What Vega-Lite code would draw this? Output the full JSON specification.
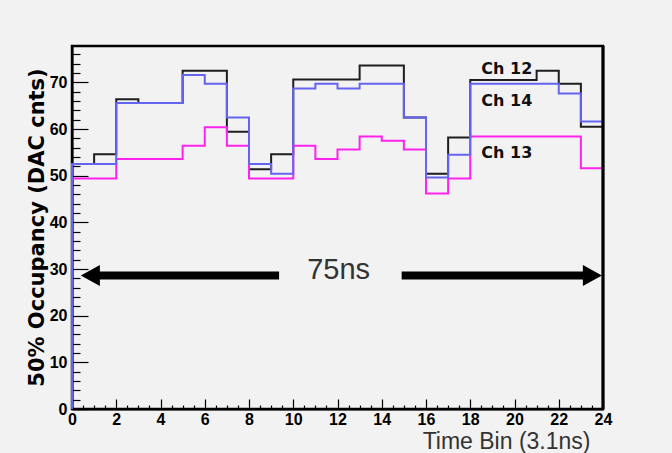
{
  "$schema": "https://vega.github.io/schema/vega-lite/v6.json",
  "width": 531,
  "height": 363,
  "autosize": {"type": "none"},
  "padding": {"left": 72, "top": 46, "right": 69, "bottom": 44},
  "background": "#f2f2f2",
  "config": {
    "view": {"fill": "#f2f2f2", "stroke": "#000000", "strokeWidth": 2.5},
    "axis": {
      "grid": false,
      "domainColor": "#000000",
      "domainWidth": 2,
      "tickColor": "#000000",
      "tickWidth": 1.2,
      "labelOverlap": false,
      "labelFlush": false
    }
  },
  "datasets": {
    "ch12": [
      {"i": 0, "x": 0, "v": 0}, {"i": 1, "x": 0, "v": 52.5}, {"i": 2, "x": 1, "v": 54.6},
      {"i": 3, "x": 2, "v": 66.4}, {"i": 4, "x": 3, "v": 65.6}, {"i": 5, "x": 4, "v": 65.6},
      {"i": 6, "x": 5, "v": 72.5}, {"i": 7, "x": 6, "v": 72.5}, {"i": 8, "x": 7, "v": 59.4},
      {"i": 9, "x": 8, "v": 51.4}, {"i": 10, "x": 9, "v": 54.6}, {"i": 11, "x": 10, "v": 70.6},
      {"i": 12, "x": 11, "v": 70.6}, {"i": 13, "x": 12, "v": 70.6}, {"i": 14, "x": 13, "v": 73.6},
      {"i": 15, "x": 14, "v": 73.6}, {"i": 16, "x": 15, "v": 62.5}, {"i": 17, "x": 16, "v": 50.4},
      {"i": 18, "x": 17, "v": 58.2}, {"i": 19, "x": 18, "v": 70.5}, {"i": 20, "x": 19, "v": 70.5},
      {"i": 21, "x": 20, "v": 70.5}, {"i": 22, "x": 21, "v": 72.5}, {"i": 23, "x": 22, "v": 69.7},
      {"i": 24, "x": 23, "v": 60.5}, {"i": 25, "x": 24, "v": 60.5}, {"i": 26, "x": 24, "v": 0}
    ],
    "ch14": [
      {"i": 0, "x": 0, "v": 0}, {"i": 1, "x": 0, "v": 52.5}, {"i": 2, "x": 1, "v": 52.5},
      {"i": 3, "x": 2, "v": 65.6}, {"i": 4, "x": 3, "v": 65.6}, {"i": 5, "x": 4, "v": 65.6},
      {"i": 6, "x": 5, "v": 71.6}, {"i": 7, "x": 6, "v": 69.7}, {"i": 8, "x": 7, "v": 62.5},
      {"i": 9, "x": 8, "v": 52.5}, {"i": 10, "x": 9, "v": 50.4}, {"i": 11, "x": 10, "v": 68.7},
      {"i": 12, "x": 11, "v": 69.7}, {"i": 13, "x": 12, "v": 68.7}, {"i": 14, "x": 13, "v": 69.7},
      {"i": 15, "x": 14, "v": 69.7}, {"i": 16, "x": 15, "v": 62.5}, {"i": 17, "x": 16, "v": 49.6},
      {"i": 18, "x": 17, "v": 54.5}, {"i": 19, "x": 18, "v": 69.7}, {"i": 20, "x": 19, "v": 69.7},
      {"i": 21, "x": 20, "v": 69.7}, {"i": 22, "x": 21, "v": 69.7}, {"i": 23, "x": 22, "v": 67.6},
      {"i": 24, "x": 23, "v": 61.6}, {"i": 25, "x": 24, "v": 61.6}, {"i": 26, "x": 24, "v": 0}
    ],
    "ch13": [
      {"i": 0, "x": 0, "v": 0}, {"i": 1, "x": 0, "v": 49.4}, {"i": 2, "x": 1, "v": 49.4},
      {"i": 3, "x": 2, "v": 53.6}, {"i": 4, "x": 3, "v": 53.6}, {"i": 5, "x": 4, "v": 53.6},
      {"i": 6, "x": 5, "v": 56.4}, {"i": 7, "x": 6, "v": 60.4}, {"i": 8, "x": 7, "v": 56.4},
      {"i": 9, "x": 8, "v": 49.4}, {"i": 10, "x": 9, "v": 49.4}, {"i": 11, "x": 10, "v": 56.4},
      {"i": 12, "x": 11, "v": 53.6}, {"i": 13, "x": 12, "v": 55.6}, {"i": 14, "x": 13, "v": 58.4},
      {"i": 15, "x": 14, "v": 57.5}, {"i": 16, "x": 15, "v": 55.6}, {"i": 17, "x": 16, "v": 46.2},
      {"i": 18, "x": 17, "v": 49.4}, {"i": 19, "x": 18, "v": 58.4}, {"i": 20, "x": 19, "v": 58.4},
      {"i": 21, "x": 20, "v": 58.4}, {"i": 22, "x": 21, "v": 58.4}, {"i": 23, "x": 22, "v": 58.4},
      {"i": 24, "x": 23, "v": 51.6}, {"i": 25, "x": 24, "v": 51.6}, {"i": 26, "x": 24, "v": 0}
    ],
    "frame": [{"x": 24}],
    "shafts": [{"x": 1.1, "x2": 9.36, "v": 28.6}, {"x": 14.9, "x2": 23.1, "v": 28.6}],
    "headL": [{"x": 0.83, "v": 28.6}],
    "headR": [{"x": 23.52, "v": 28.6}],
    "note": [{"x": 12.05, "v": 27.9, "t": "75ns"}],
    "chans": [
      {"x": 18.5, "v": 71.8, "t": "Ch 12"},
      {"x": 18.5, "v": 65.0, "t": "Ch 14"},
      {"x": 18.5, "v": 53.9, "t": "Ch 13"}
    ]
  },
  "layer": [
    {
      "layer": [
        {
          "data": {"name": "ch12"},
          "mark": {"type": "line", "interpolate": "step-after", "color": "#1e1e1e", "strokeWidth": 2},
          "encoding": {
            "x": {
              "field": "x", "type": "quantitative",
              "scale": {"domain": [0, 24], "nice": false, "zero": false},
              "axis": {
                "orient": "bottom",
                "title": "Time Bin (3.1ns)",
                "values": [0,2,4,6,8,10,12,14,16,18,20,22,24],
                "tickSize": -10,
                "labelPadding": 12,
                "labelOverlap": false,
                "labelFont": "Liberation Sans",
                "labelFontWeight": "bold",
                "labelFontSize": 16,
                "labelColor": "#000000",
                "titleFont": "Liberation Sans",
                "titleFontWeight": "normal",
                "titleFontSize": 23,
                "titleColor": "#333333",
                "titleAnchor": "end",
                "titleAlign": "right",
                "titleBaseline": "alphabetic",
                "titleX": 518,
                "titleY": 39
              }
            },
            "y": {
              "field": "v", "type": "quantitative",
              "scale": {"domain": [0, 77.8], "nice": false, "zero": false},
              "axis": {
                "orient": "left",
                "title": "50% Occupancy (DAC cnts)",
                "values": [0,10,20,30,40,50,60,70],
                "tickSize": -16,
                "labelPadding": 21,
                "labelOverlap": false,
                "labelFont": "Liberation Sans",
                "labelFontWeight": "bold",
                "labelFontSize": 16,
                "labelColor": "#000000",
                "titleFont": "DejaVu Sans",
                "titleFontWeight": "bold",
                "titleFontSize": 21,
                "titleColor": "#000000",
                "titleAngle": 270,
                "titleAlign": "center",
                "titleBaseline": "middle",
                "titleX": -35,
                "titleY": 181
              }
            },
            "order": {"field": "i", "type": "quantitative"}
          }
        },
        {
          "data": {"name": "ch13"},
          "mark": {"type": "line", "interpolate": "step-after", "color": "#ff22ee", "strokeWidth": 2},
          "encoding": {
            "x": {"field": "x", "type": "quantitative"},
            "y": {"field": "v", "type": "quantitative"},
            "order": {"field": "i", "type": "quantitative"}
          }
        },
        {
          "data": {"name": "ch14"},
          "mark": {"type": "line", "interpolate": "step-after", "color": "#6464f0", "strokeWidth": 2},
          "encoding": {
            "x": {"field": "x", "type": "quantitative"},
            "y": {"field": "v", "type": "quantitative"},
            "order": {"field": "i", "type": "quantitative"}
          }
        },
        {
          "data": {"name": "frame"},
          "mark": {"type": "rule", "color": "#000000", "strokeWidth": 3},
          "encoding": {"x": {"field": "x", "type": "quantitative"}}
        },
        {
          "data": {"name": "shafts"},
          "mark": {"type": "rule", "color": "#000000", "strokeWidth": 8},
          "encoding": {
            "x": {"field": "x", "type": "quantitative"},
            "x2": {"field": "x2"},
            "y": {"field": "v", "type": "quantitative"}
          }
        },
        {
          "data": {"name": "headL"},
          "mark": {"type": "point", "shape": "M-1,0L1,-1.1L1,1.1Z", "filled": true, "color": "#000000", "opacity": 1, "size": 361},
          "encoding": {
            "x": {"field": "x", "type": "quantitative"},
            "y": {"field": "v", "type": "quantitative"}
          }
        },
        {
          "data": {"name": "headR"},
          "mark": {"type": "point", "shape": "M1,0L-1,-1.1L-1,1.1Z", "filled": true, "color": "#000000", "opacity": 1, "size": 361},
          "encoding": {
            "x": {"field": "x", "type": "quantitative"},
            "y": {"field": "v", "type": "quantitative"}
          }
        },
        {
          "data": {"name": "note"},
          "mark": {"type": "text", "font": "Liberation Sans", "fontSize": 29, "color": "#333333", "align": "center", "baseline": "alphabetic"},
          "encoding": {
            "x": {"field": "x", "type": "quantitative"},
            "y": {"field": "v", "type": "quantitative"},
            "text": {"field": "t"}
          }
        },
        {
          "data": {"name": "chans"},
          "mark": {"type": "text", "font": "DejaVu Sans", "fontWeight": "bold", "fontSize": 16, "color": "#111111", "align": "left", "baseline": "alphabetic"},
          "encoding": {
            "x": {"field": "x", "type": "quantitative"},
            "y": {"field": "v", "type": "quantitative"},
            "text": {"field": "t"}
          }
        }
      ]
    },
    {
      "data": {"name": "ch12"},
      "mark": {"type": "point", "opacity": 0},
      "encoding": {
        "x": {
          "field": "x", "type": "quantitative",
          "scale": {"domain": [0, 24], "nice": false, "zero": false},
          "axis": {
            "orient": "bottom",
            "title": null,
            "labels": false,
            "domain": false,
            "values": [0.5,1,1.5,2.5,3,3.5,4.5,5,5.5,6.5,7,7.5,8.5,9,9.5,10.5,11,11.5,12.5,13,13.5,14.5,15,15.5,16.5,17,17.5,18.5,19,19.5,20.5,21,21.5,22.5,23,23.5],
            "tickSize": -4
          }
        },
        "y": {
          "field": "v", "type": "quantitative",
          "scale": {"domain": [0, 77.8], "nice": false, "zero": false},
          "axis": {
            "orient": "left",
            "title": null,
            "labels": false,
            "domain": false,
            "values": [2,4,6,8,12,14,16,18,22,24,26,28,32,34,36,38,42,44,46,48,52,54,56,58,62,64,66,68,72,74,76],
            "tickSize": -8
          }
        }
      }
    }
  ],
  "resolve": {"scale": {"x": "independent", "y": "independent"}}
}
